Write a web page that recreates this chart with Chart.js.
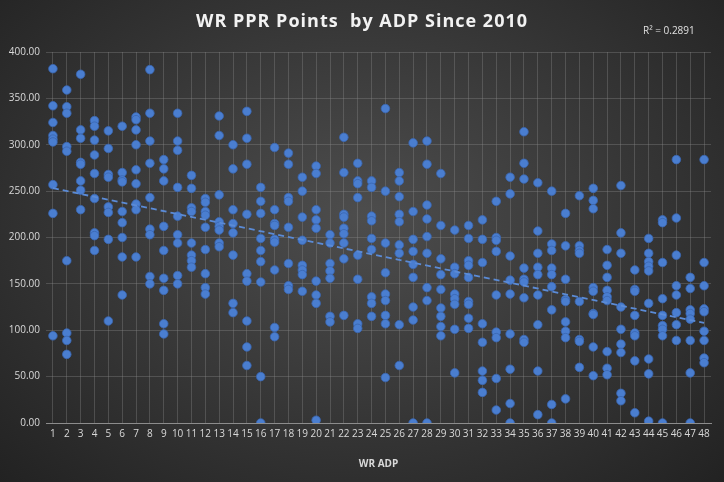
<!DOCTYPE html>
<html><head><meta charset="utf-8">
<script src="https://cdn.jsdelivr.net/npm/chart.js@4/dist/chart.umd.min.js"></script>
<style>
html,body{margin:0;padding:0;}
body{width:724px;height:482px;background:radial-gradient(ellipse at 50% 45%,#4d4d4d 0%,#3a3a3a 45%,#222 100%);overflow:hidden;}
#wrap{position:relative;width:724px;height:482px;}
</style></head><body><div id="wrap"><canvas id="c" width="724" height="482"></canvas></div>
<script>
const title = "WR PPR Points  by ADP Since 2010";
const r2Label = "R² = 0.2891";
const xAxisTitle = "WR ADP";
const yTicks = [0,50,100,150,200,250,300,350,400];
const adp = [];
for (let i = 1; i <= 48; i++) adp.push(i);
const pointsByAdp = [
 [382,342,324,310,306,303,257,226,94],
 [359,341,334,298,293,175,97,89,74],
 [376,316,307,281,279,261,251,230],
 [326,320,305,289,269,242,205,202,186],
 [315,296,268,265,233,227,198,110],
 [320,270,262,260,228,216,200,179,138],
 [330,327,316,300,273,258,236,230,179],
 [381,334,304,280,243,209,203,158,150],
 [284,274,261,212,186,156,143,107,96],
 [334,304,294,254,223,203,194,159,150],
 [267,253,232,228,194,181,175,168],
 [242,238,228,224,211,187,161,146,139],
 [331,310,246,217,212,208,194,190],
 [300,274,230,215,205,181,129,119],
 [336,307,279,225,161,153,110,82,62],
 [254,239,226,199,186,174,152,50,0],
 [297,230,215,213,198,195,165,103,93],
 [291,279,243,239,211,172,148,144],
 [265,250,222,197,170,165,160,142],
 [277,269,230,219,210,153,138,129,3],
 [203,194,172,164,156,115,109],
 [308,270,225,222,210,204,194,177,116],
 [280,261,258,243,181,155,107,102],
 [261,254,223,218,199,187,136,129,115],
 [339,250,194,162,139,132,116,107,49],
 [270,261,244,225,217,192,183,106,62],
 [302,228,198,185,171,157,125,111,0],
 [304,279,235,220,201,183,146,132,0],
 [269,213,177,160,144,124,115,104,94],
 [208,168,161,139,134,128,101,54],
 [213,199,175,170,157,131,128,113,102],
 [219,198,173,107,87,56,46,33],
 [239,200,197,185,138,98,92,48,14],
 [265,247,180,154,139,96,58,21,0],
 [314,280,263,167,155,152,135,90,87],
 [259,207,183,168,160,138,106,56,9],
 [250,193,186,167,160,147,122,20,0],
 [226,191,155,133,131,109,99,92,26],
 [245,191,186,183,131,90,88,60],
 [253,240,231,146,142,118,117,82,51],
 [187,170,157,143,136,132,77,59,52],
 [256,205,183,125,101,85,76,32,24],
 [165,144,142,116,97,94,67,11],
 [199,183,174,169,164,129,69,53,2],
 [219,216,173,134,116,105,101,94,0],
 [284,221,181,148,138,119,106,89],
 [157,145,122,118,112,89,54,0],
 [284,173,148,123,120,99,89,70,65]
];
const scatterData = [];
adp.forEach((x,i)=>pointsByAdp[i].forEach(y=>scatterData.push({x:x,y:y})));
// least-squares trendline from the data
let n=scatterData.length,sx=0,sy=0,sxy=0,sxx=0;
scatterData.forEach(p=>{sx+=p.x;sy+=p.y;sxy+=p.x*p.y;sxx+=p.x*p.x;});
const slope=(n*sxy-sx*sy)/(n*sxx-sx*sx), icpt=(sy-slope*sx)/n;
const trend=[{x:1,y:icpt+slope},{x:48,y:icpt+slope*48}];

const deco={id:'deco',afterDraw(ch){const c=ch.ctx;c.save();
 c.fillStyle='#f2f2f2';c.font='bold 18px "Open Sans", Calibri, sans-serif';c.textAlign='center';c.textBaseline='middle';
 if(c.letterSpacing!==undefined)c.letterSpacing='1px';
 c.fillText(title,362,22);
 if(c.letterSpacing!==undefined)c.letterSpacing='0px';
 c.font='10px "Open Sans", sans-serif';c.fillStyle='#e0e0e0';c.textAlign='left';c.fillText(r2Label,643,31);
 c.restore();}};

new Chart(document.getElementById('c'),{
 type:'scatter',
 data:{datasets:[
  {data:scatterData,backgroundColor:'#4a7ed0',borderColor:'#3a66b0',borderWidth:0.8,pointRadius:4.3,pointHoverRadius:4.3,order:1},
  {type:'line',data:trend,borderColor:'#5b8bd6',borderWidth:1.8,borderDash:[6,4],pointRadius:0,fill:false,order:0}
 ]},
 plugins:[deco],
 options:{responsive:false,animation:false,events:[],
  layout:{padding:{left:0,right:13,top:52,bottom:8}},
  plugins:{legend:{display:false},tooltip:{enabled:false},title:{display:false}},
  scales:{
   x:{type:'linear',min:0.5,max:48.5,afterBuildTicks(a){a.ticks=adp.map(v=>({value:v}));},
     afterFit(a){a.height=51;},
     ticks:{color:'#d9d9d9',font:{size:10,family:'"Open Sans", sans-serif'},maxRotation:0,autoSkip:false,padding:5},
     grid:{color:'rgba(140,140,140,0.35)',drawTicks:false},border:{color:'#8c8c8c'},
     title:{display:true,text:xAxisTitle,color:'#d9d9d9',font:{size:10,weight:'bold',family:'"Open Sans", sans-serif'},padding:{top:4}}},
   y:{min:0,max:400,afterBuildTicks(a){a.ticks=yTicks.map(v=>({value:v}));},
     afterFit(a){a.width=46;},
     ticks:{color:'#d9d9d9',font:{size:10,family:'"Open Sans", sans-serif'},callback:v=>v.toFixed(2),padding:6},
     grid:{color:'rgba(140,140,140,0.35)',drawTicks:false},border:{display:false}}
  }}
});
</script></body></html>
